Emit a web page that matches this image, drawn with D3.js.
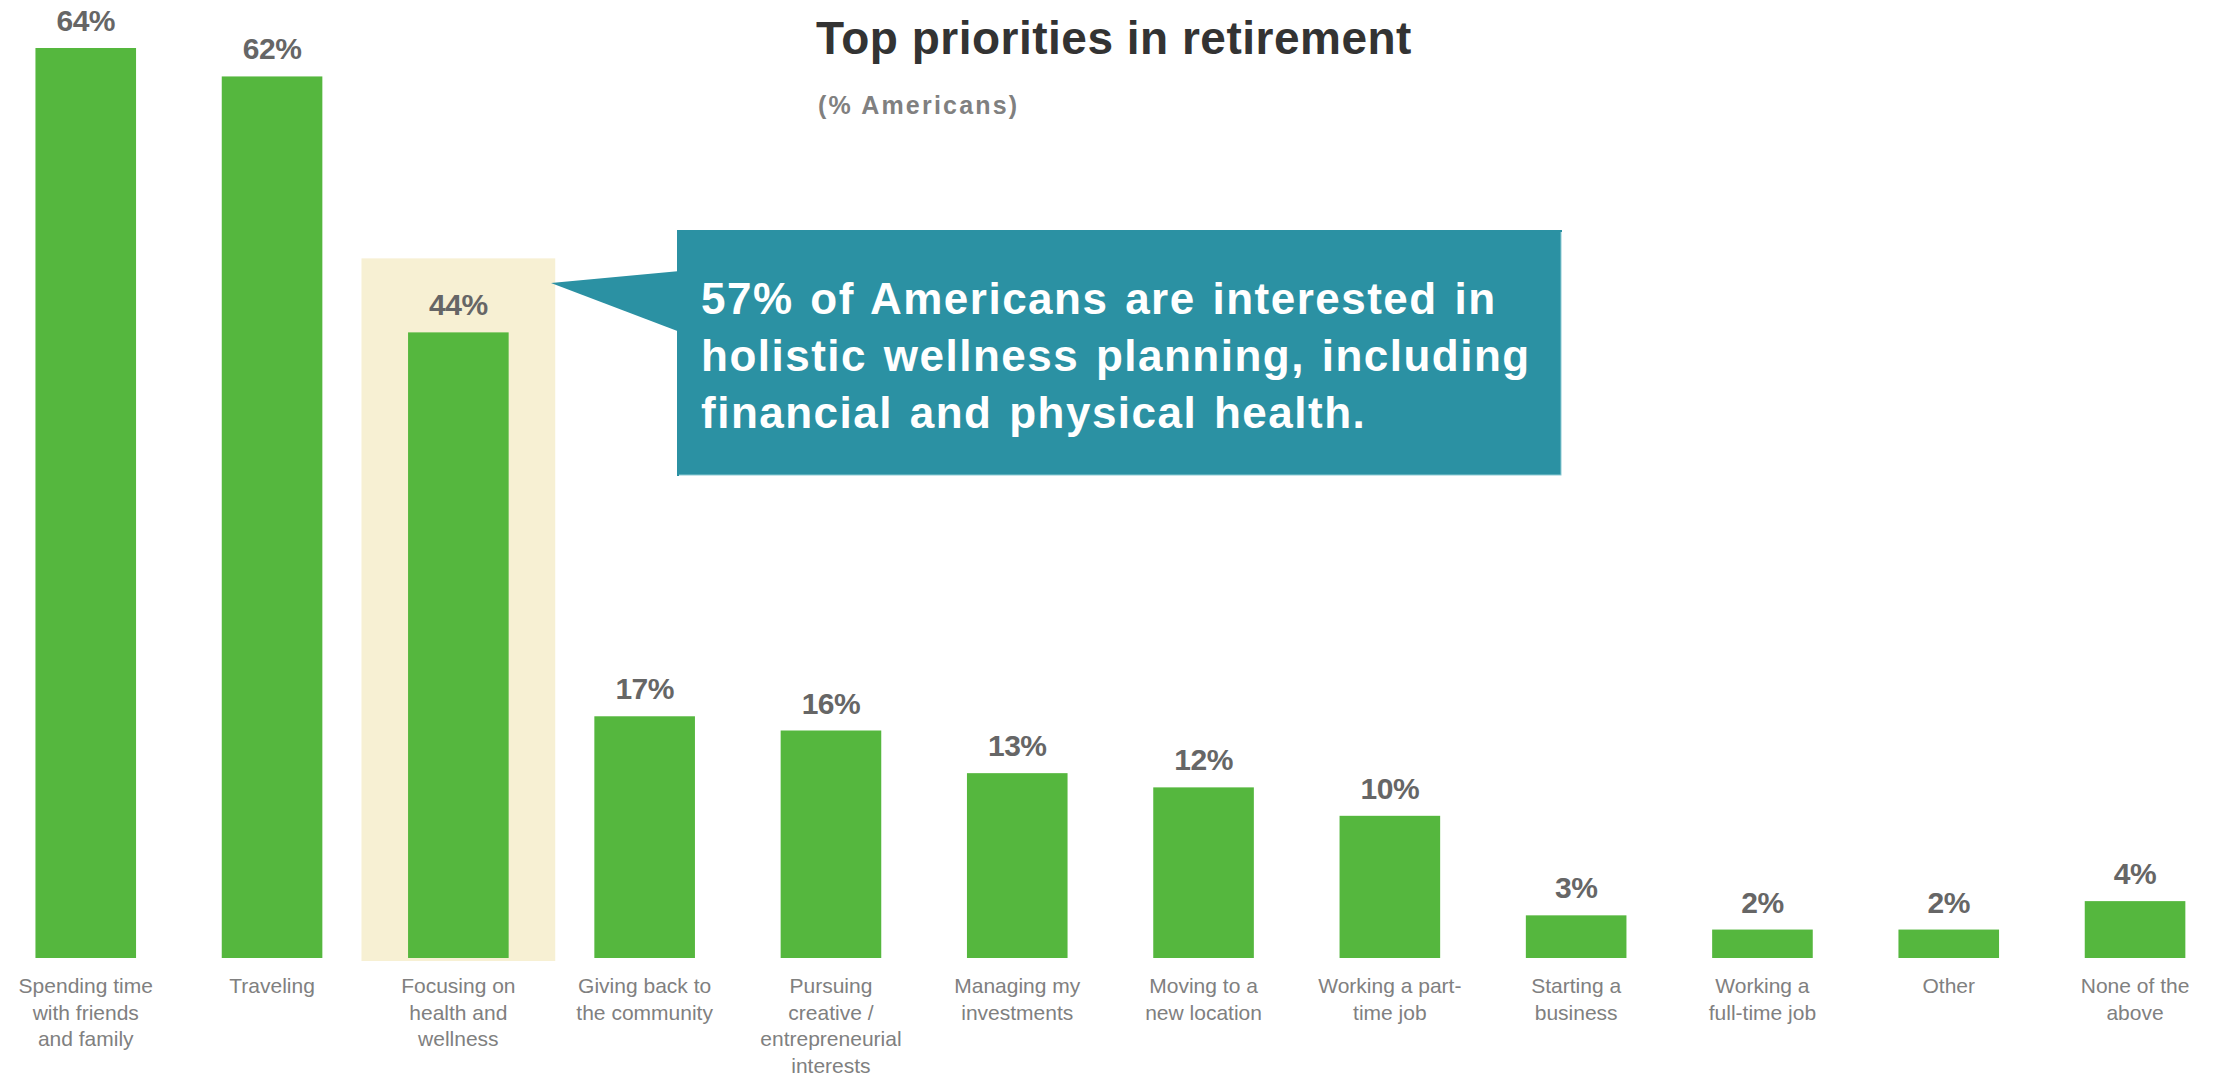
<!DOCTYPE html>
<html>
<head>
<meta charset="utf-8">
<script src="https://cdn.jsdelivr.net/npm/d3@7/dist/d3.min.js"></script>
<style>
  html, body { margin: 0; padding: 0; background: #ffffff; }
  svg { display: block; font-family: "Liberation Sans", Arial, sans-serif; }
</style>
</head>
<body>
<svg id="chart" width="2221" height="1075"></svg>
<script>
// Survey answers: category labels (pre-broken into lines) and share of respondents (%)
const categories = [
  "Spending time with friends and family",
  "Traveling",
  "Focusing on health and wellness",
  "Giving back to the community",
  "Pursuing creative / entrepreneurial interests",
  "Managing my investments",
  "Moving to a new location",
  "Working a part-time job",
  "Starting a business",
  "Working a full-time job",
  "Other",
  "None of the above"
];
const labelLines = [
  ["Spending time", "with friends", "and family"],
  ["Traveling"],
  ["Focusing on", "health and", "wellness"],
  ["Giving back to", "the community"],
  ["Pursuing", "creative /", "entrepreneurial", "interests"],
  ["Managing my", "investments"],
  ["Moving to a", "new location"],
  ["Working a part-", "time job"],
  ["Starting a", "business"],
  ["Working a", "full-time job"],
  ["Other"],
  ["None of the", "above"]
];
const values = [64, 62, 44, 17, 16, 13, 12, 10, 3, 2, 2, 4];
const highlighted = "Focusing on health and wellness";

const titleText = "Top priorities in retirement";
const subtitleText = "(% Americans)";
const calloutLines = [
  "57% of Americans are interested in",
  "holistic wellness planning, including",
  "financial and physical health."
];

const svg = d3.select("#chart");

const baseline = 958;
const x = d3.scaleBand()
  .domain(categories)
  .range([-7.4, 2228.2])
  .paddingInner(0.46)
  .paddingOuter(0.23);

const y = d3.scaleLinear()
  .domain([0, 64])
  .range([baseline, 48]);

// Highlight panel behind the featured bar
const hiIdx = categories.indexOf(highlighted);
const hiPad = x.step() * 0.25;
svg.append("rect")
  .attr("x", x(highlighted) - hiPad)
  .attr("y", y(values[hiIdx]) - 74)
  .attr("width", x.bandwidth() + 2 * hiPad)
  .attr("height", baseline + 3 - (y(values[hiIdx]) - 74))
  .attr("fill", "#F7F0D3");

// Bars
svg.append("g").selectAll("rect")
  .data(categories)
  .join("rect")
  .attr("x", d => x(d))
  .attr("y", (d, i) => y(values[i]))
  .attr("width", x.bandwidth())
  .attr("height", (d, i) => baseline - y(values[i]))
  .attr("fill", "#55B73E");

// Value labels above bars
svg.append("g").selectAll("text")
  .data(categories)
  .join("text")
  .attr("x", d => x(d) + x.bandwidth() / 2)
  .attr("y", (d, i) => y(values[i]) - 17)
  .attr("text-anchor", "middle")
  .attr("font-size", 30)
  .attr("font-weight", "bold")
  .attr("letter-spacing", "-0.5px")
  .attr("fill", "#666666")
  .text((d, i) => values[i] + "%");

// Category axis labels (multi-line, centered under each bar)
const catG = svg.append("g").selectAll("text")
  .data(categories)
  .join("text")
  .attr("text-anchor", "middle")
  .attr("font-size", 21)
  .attr("fill", "#808080");
catG.each(function(d, i) {
  const cx = x(d) + x.bandwidth() / 2;
  d3.select(this).selectAll("tspan")
    .data(labelLines[i])
    .join("tspan")
    .attr("x", cx)
    .attr("y", (l, j) => 993 + j * 26.5)
    .text(l => l);
});

// Title and subtitle
svg.append("text")
  .attr("x", 816)
  .attr("y", 54)
  .attr("font-size", 46)
  .attr("font-weight", "bold")
  .attr("letter-spacing", "0.5px")
  .attr("fill", "#333333")
  .text(titleText);

svg.append("text")
  .attr("x", 818)
  .attr("y", 114)
  .attr("font-size", 25)
  .attr("font-weight", "bold")
  .attr("letter-spacing", "2.2px")
  .attr("fill", "#808080")
  .text(subtitleText);

// Callout box with pointer toward the highlighted bar
const box = { x0: 678, y0: 231, x1: 1561, y1: 475 };
const callout = svg.append("g");
callout.append("path")
  .attr("d", d3.line()([[box.x0 + 2, 271], [551, 283], [box.x0 + 2, 332]]) + "Z")
  .attr("fill", "#2B91A3");
callout.append("rect")
  .attr("x", box.x0)
  .attr("y", box.y0)
  .attr("width", box.x1 - box.x0)
  .attr("height", box.y1 - box.y0)
  .attr("fill", "#2B91A3")
  .attr("stroke", "#8CCAD3")
  .attr("stroke-width", 1);
callout.append("rect")
  .attr("x", box.x0 - 1)
  .attr("y", box.y0 - 1)
  .attr("width", 2)
  .attr("height", box.y1 - box.y0 + 2)
  .attr("fill", "#2B91A3");
callout.append("rect")
  .attr("x", box.x0 - 1)
  .attr("y", box.y0 - 1)
  .attr("width", box.x1 - box.x0 + 2)
  .attr("height", 2)
  .attr("fill", "#2B91A3");

callout.append("text")
  .attr("font-size", 44)
  .attr("font-weight", "bold")
  .attr("letter-spacing", "1.5px")
  .attr("word-spacing", "3px")
  .attr("fill", "#ffffff")
  .selectAll("tspan")
  .data(calloutLines)
  .join("tspan")
  .attr("x", 701)
  .attr("y", (d, i) => 314 + i * 57)
  .text(d => d);
</script>
</body>
</html>
